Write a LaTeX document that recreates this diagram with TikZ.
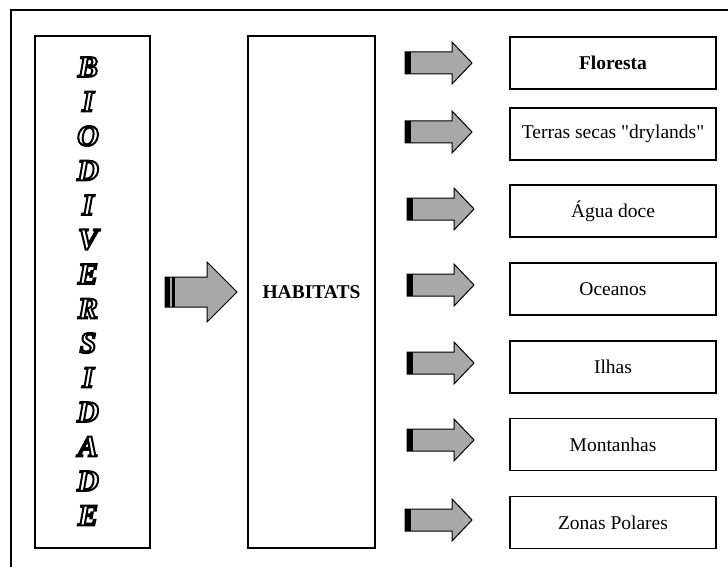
\documentclass[tikz,border=0pt]{standalone}
\usepackage{fontspec}
\setmainfont{Liberation Serif}[Ligatures=TeXOff]
\definecolor{arrgray}{RGB}{168,168,168}
\newcommand{\outlinetext}[1]{\special{pdf:literal direct 1 Tr 2 w}#1\special{pdf:literal direct 0 Tr 1 w}}
\begin{document}
\begin{tikzpicture}[x=1pt,y=-1pt,line join=miter]
\useasboundingbox (0,0) rectangle (728,567);
\tikzset{
  frameline/.style={draw=black,line width=1.8pt},
  tallbox/.style={draw=black,line width=1.8pt,inner sep=0pt,minimum height=512pt},
  habbox/.style={draw=black,line width=1.8pt,minimum width=206pt,minimum height=52pt,inner sep=0pt,font=\fontsize{19.5}{22}\selectfont},
  letter/.style={inner sep=0pt,font=\fontsize{30}{32}\selectfont\bfseries\itshape},
  arrowbody/.style={fill=arrgray,draw=black,line width=1pt},
  smallarr/.pic={
    \draw[arrowbody] (0,-11) -- (47,-11) -- (47,-21) -- (67,0) -- (47,21) -- (47,11) -- (0,11) -- cycle;
    \fill[black] (0,-11) rectangle (6,11);
  },
  bigarr/.pic={
    \draw[arrowbody] (0,-15) -- (42,-15) -- (42,-30) -- (72,0) -- (42,30) -- (42,15) -- (0,15) -- cycle;
    \fill[black] (0,-15) rectangle (5,15);
    \fill[black] (7,-15) rectangle (10,15);
  }
}
% outer frame (cut at the right and bottom)
\draw[frameline] (11,567) -- (11,10) -- (728,10);
% left column
\node[tallbox,minimum width=115pt] (bio) at (92.5,292) {};
\foreach \c [count=\i] in {B,I,O,D,I,V,E,R,S,I,D,A,D,E}
  \node[letter] (l\i) at (88,{67+34.5*(\i-1)}) {\outlinetext{\c}};
% big arrow
\pic at (165,292) {bigarr};
% habitats column
\node[tallbox,minimum width=127pt,font=\fontsize{19.5}{22}\selectfont\bfseries] (hab) at (311.5,292) {HABITATS};
% right boxes
\node[habbox,font=\fontsize{19.5}{22}\selectfont\bfseries] (h1) at (613,63) {Floresta};
\node[habbox] (h2) at (613,134) {Terras secas "drylands"};
\node[habbox] (h3) at (613,211) {Água doce};
\node[habbox] (h4) at (613,289) {Oceanos};
\node[habbox] (h5) at (613,367) {Ilhas};
\node[habbox] (h6) at (613,444.5) {Montanhas};
\node[habbox] (h7) at (613,522.5) {Zonas Polares};
% small arrows
\pic at (405,63) {smallarr};
\pic at (405,132) {smallarr};
\pic at (407,209) {smallarr};
\pic at (407,285) {smallarr};
\pic at (407,363) {smallarr};
\pic at (407,440) {smallarr};
\pic at (405,520) {smallarr};
\end{tikzpicture}
\end{document}
